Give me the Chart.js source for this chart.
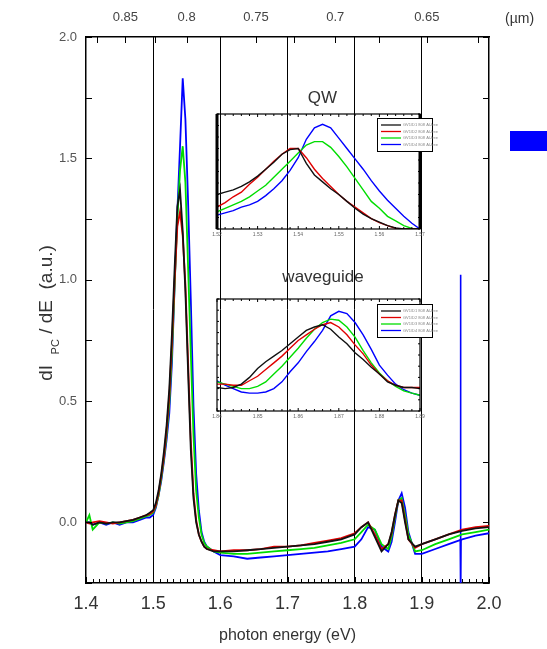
<!DOCTYPE html>
<html>
<head>
<meta charset="utf-8">
<script src="https://cdn.jsdelivr.net/npm/chart.js@4.4.1/dist/chart.umd.min.js"></script>
<style>
  body { margin: 0; background: #fff; }
  #wrap { position: relative; width: 547px; height: 649px; overflow: hidden; }
  canvas { position: absolute; }
  .lbl { position: absolute; font-family: 'Liberation Sans', Arial, sans-serif; color: #333; text-align: center; }
  #patch { position: absolute; left: 510px; top: 131px; width: 40px; height: 20px; background: #0000ff; }
</style>
</head>
<body>
<div id="wrap">
  <canvas id="main" width="547" height="649" style="left:0;top:0"></canvas>
  <canvas id="qw" width="240" height="132" style="left:205px;top:108px"></canvas>
  <canvas id="wg" width="240" height="130" style="left:205px;top:293px"></canvas>
  <div class="lbl" style="left:290px;top:88px;width:65px;font-size:17px;">QW</div>
  <div class="lbl" style="left:258px;top:267px;width:130px;font-size:17px;">waveguide</div>
  <div id="patch"></div>
</div>
<script>
// photon energy (eV) <-> wavelength (um)
const HC = 1.2398;

// ---- main spectra ----
const energy = [1.400, 1.405, 1.410, 1.420, 1.430, 1.440, 1.450, 1.460, 1.470, 1.480,
  1.490, 1.495, 1.500, 1.504, 1.508, 1.512, 1.516, 1.520, 1.524, 1.528,
  1.532, 1.536, 1.540, 1.544, 1.548, 1.552, 1.556, 1.560, 1.564, 1.568,
  1.572, 1.576, 1.580, 1.590, 1.600, 1.620, 1.640, 1.660, 1.680, 1.700,
  1.720, 1.740, 1.760, 1.780, 1.800, 1.810, 1.820, 1.830, 1.840, 1.850,
  1.855, 1.860, 1.865, 1.870, 1.875, 1.880, 1.890, 1.900, 1.920, 1.940,
  1.960, 1.980, 2.000];

const sampleD1 = [0.00, 0.00, -0.01, 0.00, -0.005, 0.00, 0.00, 0.005, 0.01, 0.02,
  0.03, 0.04, 0.05, 0.08, 0.13, 0.20, 0.29, 0.40, 0.55, 0.78,
  1.05, 1.30, 1.37, 1.20, 0.95, 0.62, 0.30, 0.10, 0.00, -0.05,
  -0.08, -0.10, -0.11, -0.12, -0.12, -0.12, -0.115, -0.11, -0.105, -0.10,
  -0.095, -0.09, -0.08, -0.07, -0.05, -0.02, 0.00, -0.06, -0.12, -0.09,
  -0.04, 0.03, 0.09, 0.08, 0.00, -0.07, -0.10, -0.09, -0.07, -0.05,
  -0.035, -0.025, -0.02];

const sampleD2 = [0.00, -0.005, 0.00, 0.005, 0.00, -0.005, 0.00, 0.005, 0.01, 0.02,
  0.03, 0.035, 0.045, 0.07, 0.12, 0.19, 0.27, 0.38, 0.52, 0.74,
  1.00, 1.22, 1.28, 1.18, 0.98, 0.66, 0.34, 0.12, 0.01, -0.05,
  -0.08, -0.10, -0.11, -0.115, -0.12, -0.115, -0.115, -0.11, -0.10, -0.10,
  -0.095, -0.085, -0.075, -0.065, -0.045, -0.02, 0.00, -0.05, -0.11, -0.09,
  -0.045, 0.03, 0.09, 0.09, 0.01, -0.07, -0.105, -0.09, -0.07, -0.05,
  -0.03, -0.02, -0.015];

const sampleD3 = [0.00, 0.03, -0.03, 0.00, -0.005, 0.00, -0.005, 0.00, 0.005, 0.015,
  0.025, 0.03, 0.04, 0.065, 0.11, 0.18, 0.26, 0.36, 0.49, 0.70,
  0.98, 1.25, 1.45, 1.55, 1.40, 1.05, 0.70, 0.36, 0.13, 0.02,
  -0.05, -0.085, -0.10, -0.12, -0.125, -0.13, -0.13, -0.125, -0.12, -0.115,
  -0.11, -0.105, -0.095, -0.085, -0.07, -0.04, -0.01, -0.03, -0.09, -0.11,
  -0.06, 0.02, 0.09, 0.10, 0.03, -0.05, -0.12, -0.115, -0.09, -0.07,
  -0.05, -0.04, -0.03];

const sampleD4 = [0.00, 0.00, -0.01, 0.00, -0.01, 0.00, -0.01, 0.00, 0.00, 0.01,
  0.02, 0.02, 0.03, 0.06, 0.11, 0.17, 0.25, 0.34, 0.45, 0.66,
  0.98, 1.28, 1.55, 1.83, 1.66, 1.32, 0.92, 0.48, 0.20, 0.05,
  -0.04, -0.08, -0.10, -0.12, -0.135, -0.14, -0.15, -0.145, -0.14, -0.135,
  -0.13, -0.125, -0.12, -0.11, -0.10, -0.07, -0.02, -0.03, -0.10, -0.12,
  -0.08, 0.00, 0.09, 0.12, 0.06, -0.04, -0.13, -0.13, -0.11, -0.09,
  -0.07, -0.055, -0.045];

// glitch in the D4 scan
const spikeE = [1.9572, 1.9576, 1.9580, 1.9584];
const spikeV = [-0.07, 1.02, -0.32, -0.07];

const yTickVals = [0.0, 0.5, 1.0, 1.5, 2.0];
const waveLabels = ['0.85', '0.8', '0.75', '0.7', '0.65'];
const waveMinor = [0.875, 0.85, 0.825, 0.8, 0.775, 0.75, 0.725, 0.7, 0.675, 0.65, 0.625];

// ---- QW inset ----
const qwE = [1.520, 1.522, 1.524, 1.526, 1.528, 1.530, 1.532, 1.534, 1.536, 1.538,
  1.540, 1.542, 1.544, 1.546, 1.548, 1.550, 1.552, 1.554, 1.556, 1.558,
  1.560, 1.562, 1.564, 1.566, 1.568, 1.570];
const qwD1 = [0.30, 0.32, 0.34, 0.37, 0.41, 0.46, 0.52, 0.58, 0.65, 0.69,
  0.70, 0.57, 0.47, 0.41, 0.35, 0.30, 0.24, 0.18, 0.13, 0.09,
  0.06, 0.03, 0.01, 0.00, 0.00, 0.00];
const qwD2 = [0.19, 0.23, 0.28, 0.32, 0.39, 0.45, 0.52, 0.59, 0.65, 0.70,
  0.70, 0.62, 0.52, 0.44, 0.37, 0.30, 0.24, 0.19, 0.14, 0.09,
  0.055, 0.03, 0.005, 0.00, 0.00, 0.00];
const qwD3 = [0.15, 0.18, 0.21, 0.24, 0.28, 0.33, 0.38, 0.45, 0.52, 0.59,
  0.66, 0.73, 0.76, 0.76, 0.71, 0.63, 0.54, 0.44, 0.34, 0.24,
  0.18, 0.11, 0.07, 0.03, 0.005, 0.00];
const qwD4 = [0.12, 0.14, 0.16, 0.19, 0.21, 0.24, 0.29, 0.35, 0.42, 0.51,
  0.62, 0.78, 0.88, 0.91, 0.88, 0.79, 0.70, 0.61, 0.52, 0.42,
  0.33, 0.25, 0.18, 0.11, 0.05, 0.00];
const qwTicks = [1.52, 1.53, 1.54, 1.55, 1.56, 1.57];

// ---- waveguide inset ----
const wgE = [1.840, 1.842, 1.844, 1.846, 1.848, 1.850, 1.852, 1.854, 1.856, 1.858,
  1.860, 1.862, 1.864, 1.866, 1.868, 1.870, 1.872, 1.874, 1.876, 1.878,
  1.880, 1.882, 1.884, 1.886, 1.888, 1.890];
const wgD1 = [0.21, 0.20, 0.21, 0.24, 0.30, 0.38, 0.44, 0.49, 0.54, 0.60,
  0.66, 0.72, 0.75, 0.77, 0.73, 0.66, 0.60, 0.52, 0.46, 0.39,
  0.33, 0.26, 0.23, 0.21, 0.21, 0.20];
const wgD2 = [0.24, 0.24, 0.23, 0.23, 0.27, 0.31, 0.37, 0.43, 0.49, 0.56,
  0.63, 0.68, 0.73, 0.77, 0.79, 0.75, 0.68, 0.59, 0.51, 0.41,
  0.33, 0.27, 0.23, 0.21, 0.21, 0.21];
const wgD3 = [0.26, 0.24, 0.22, 0.20, 0.20, 0.22, 0.26, 0.33, 0.40, 0.48,
  0.56, 0.65, 0.73, 0.79, 0.82, 0.81, 0.75, 0.66, 0.54, 0.43,
  0.34, 0.27, 0.22, 0.18, 0.16, 0.14];
const wgD4 = [0.27, 0.23, 0.20, 0.17, 0.16, 0.16, 0.17, 0.20, 0.26, 0.35,
  0.43, 0.53, 0.62, 0.72, 0.85, 0.89, 0.87, 0.79, 0.68, 0.55,
  0.41, 0.32, 0.24, 0.19, 0.16, 0.14];
const wgTicks = [1.84, 1.85, 1.86, 1.87, 1.88, 1.89];

const colors = ['#111111', '#e00000', '#00dd00', '#0000ff'];
const legendNames = ['GV1/D1 808 Al-free', 'GV1/D2 808 Al-free', 'GV1/D3 808 Al-free', 'GV1/D4 808 Al-free'];
const FONT = "'Liberation Sans', Arial, sans-serif";

const xy = (xs, ys) => xs.map((x, i) => ({ x: x, y: ys[i] }));

// inward ticks, axis titles and the wavelength unit
const mainDecor = {
  id: 'mainDecor',
  afterDraw(chart) {
    const { ctx, chartArea: a, scales } = chart;
    const x = scales.x, y = scales.y;
    ctx.save();
    ctx.strokeStyle = '#000';
    ctx.lineWidth = 1;
    ctx.beginPath();
    for (let i = 0; i <= 60; i++) {
      const px = Math.round(x.getPixelForValue(1.4 + i * 0.01)) + 0.5;
      ctx.moveTo(px, a.bottom);
      ctx.lineTo(px, a.bottom - (i % 10 === 0 ? 6 : 4));
    }
    waveMinor.forEach(l => {
      const px = Math.round(x.getPixelForValue(HC / l)) + 0.5;
      ctx.moveTo(px, a.top);
      ctx.lineTo(px, a.top + 6);
    });
    for (let v = -0.25; v <= 2.0; v += 0.25) {
      const py = Math.round(y.getPixelForValue(v)) + 0.5;
      ctx.moveTo(a.left, py); ctx.lineTo(a.left + 6, py);
      ctx.moveTo(a.right, py); ctx.lineTo(a.right - 6, py);
    }
    ctx.stroke();

    ctx.fillStyle = '#333';
    ctx.font = '16px ' + FONT;
    ctx.textAlign = 'center';
    ctx.textBaseline = 'middle';
    ctx.fillText('photon energy (eV)', (a.left + a.right) / 2, 636);

    ctx.font = '14px ' + FONT;
    ctx.textAlign = 'left';
    ctx.fillText('(\u00b5m)', 505, 19);

    // rotated y title with subscript
    ctx.translate(47, 313);
    ctx.rotate(-Math.PI / 2);
    const big = '19px ' + FONT, small = '11px ' + FONT;
    ctx.font = big; const w1 = ctx.measureText('dI  ').width;
    ctx.font = small; const w2 = ctx.measureText('PC').width;
    ctx.font = big; const w3 = ctx.measureText(' / dE  (a.u.)').width;
    let cx = -(w1 + w2 + w3) / 2;
    ctx.textAlign = 'left';
    ctx.font = big; ctx.fillText('dI  ', cx, 0); cx += w1;
    ctx.font = small; ctx.fillText('PC', cx, 9); cx += w2;
    ctx.font = big; ctx.fillText(' / dE  (a.u.)', cx, 0);
    ctx.restore();
  }
};

const lineSet = (data, color, width) => ({
  data: data, borderColor: color, borderWidth: width, pointRadius: 0, fill: false, tension: 0
});

new Chart(document.getElementById('main'), {
  type: 'line',
  data: {
    datasets: [
      lineSet(xy(energy, sampleD1), colors[0], 1.8),
      lineSet(xy(energy, sampleD2), colors[1], 1.8),
      lineSet(xy(energy, sampleD3), colors[2], 1.8),
      lineSet(xy(energy, sampleD4), colors[3], 1.8),
      lineSet(xy(spikeE, spikeV), colors[3], 1.6)
    ]
  },
  options: {
    responsive: false,
    animation: false,
    devicePixelRatio: 1,
    layout: { padding: 0 },
    plugins: { legend: { display: false }, tooltip: { enabled: false } },
    scales: {
      x: {
        type: 'linear', position: 'bottom', min: 1.4, max: 2.0,
        afterFit: s => { s.height = 66; },
        ticks: {
          stepSize: 0.1, padding: 10, maxRotation: 0, autoSkip: false,
          color: '#333', font: { size: 18, family: FONT },
          callback: v => v.toFixed(1)
        },
        grid: {
          drawTicks: false, lineWidth: 1,
          color: c => (c.tick && c.tick.value > 1.45 && c.tick.value < 1.95) ? '#000' : 'rgba(0,0,0,0)'
        },
        border: { display: true, color: '#000', width: 1.5 }
      },
      xTop: {
        type: 'linear', position: 'top', min: 1.4, max: 2.0,
        afterFit: s => { s.height = 37; },
        afterBuildTicks: s => { s.ticks = waveLabels.map(l => ({ value: HC / parseFloat(l) })); },
        ticks: {
          padding: 12, maxRotation: 0, autoSkip: false,
          color: '#444', font: { size: 13, family: FONT },
          callback: (v, i) => waveLabels[i]
        },
        grid: { display: false, drawTicks: false },
        border: { display: true, color: '#000', width: 1.5 }
      },
      y: {
        type: 'linear', position: 'left', min: -0.25, max: 2.0,
        afterFit: s => { s.width = 86; },
        afterBuildTicks: s => { s.ticks = yTickVals.map(v => ({ value: v })); },
        ticks: {
          padding: 9, color: '#555', font: { size: 13, family: FONT },
          callback: v => v.toFixed(1)
        },
        grid: { display: false, drawTicks: false },
        border: { display: true, color: '#000', width: 1.5 }
      },
      y2: {
        type: 'linear', position: 'right', min: -0.25, max: 2.0,
        afterFit: s => { s.width = 58; },
        ticks: { display: false },
        grid: { display: false, drawTicks: false },
        border: { display: true, color: '#000', width: 1.5 }
      }
    }
  },
  plugins: [mainDecor]
});

// frame, ticks, tiny labels and legend for the insets
const insetDecor = {
  id: 'insetDecor',
  afterDraw(chart, args, opts) {
    const { ctx, chartArea: a, scales: { x, y } } = chart;
    ctx.save();
    ctx.strokeStyle = '#000';
    ctx.lineWidth = 1.2;
    ctx.strokeRect(a.left, a.top, a.right - a.left, a.bottom - a.top);
    if (opts.heavySides) {
      ctx.lineWidth = 3;
      ctx.beginPath();
      ctx.moveTo(a.left, a.top); ctx.lineTo(a.left, a.bottom);
      ctx.moveTo(a.right, a.top); ctx.lineTo(a.right, a.bottom);
      ctx.stroke();
    }
    ctx.lineWidth = 1;
    ctx.beginPath();
    const t0 = opts.ticks[0], t1 = opts.ticks[opts.ticks.length - 1];
    for (let i = 0; i <= 25; i++) {
      const px = x.getPixelForValue(t0 + (t1 - t0) * i / 25);
      const len = i % 5 === 0 ? 3 : 2;
      ctx.moveTo(px, a.bottom); ctx.lineTo(px, a.bottom - len);
      ctx.moveTo(px, a.top); ctx.lineTo(px, a.top + len);
    }
    for (let i = 0; i <= 10; i++) {
      const py = y.getPixelForValue(i / 10);
      ctx.moveTo(a.left, py); ctx.lineTo(a.left + 2, py);
      ctx.moveTo(a.right, py); ctx.lineTo(a.right - 2, py);
    }
    ctx.stroke();

    ctx.fillStyle = '#666';
    ctx.font = '5px ' + FONT;
    ctx.textAlign = 'center';
    ctx.textBaseline = 'top';
    opts.ticks.forEach(v => ctx.fillText(v.toFixed(2), x.getPixelForValue(v), a.bottom + 3));

    // legend box
    const bx = a.right - 43, by = a.top + opts.legendTop, bw = 55, bh = 33;
    ctx.fillStyle = '#fff';
    ctx.fillRect(bx, by, bw, bh);
    ctx.strokeStyle = '#000';
    ctx.lineWidth = 1;
    ctx.strokeRect(bx + 0.5, by + 0.5, bw, bh);
    ctx.font = '4px ' + FONT;
    ctx.textAlign = 'left';
    ctx.textBaseline = 'middle';
    colors.forEach((c, i) => {
      const ry = by + 7 + i * 6.5;
      ctx.strokeStyle = c;
      ctx.lineWidth = 1.3;
      ctx.beginPath(); ctx.moveTo(bx + 4, ry); ctx.lineTo(bx + 24, ry); ctx.stroke();
      ctx.fillStyle = '#888';
      ctx.fillText(legendNames[i], bx + 26, ry);
    });
    ctx.restore();
  }
};

function makeInset(id, xs, series, ticks, pad, legendTop, heavySides) {
  new Chart(document.getElementById(id), {
    type: 'line',
    data: { datasets: series.map((s, i) => lineSet(xy(xs, s), colors[i], 1.4)) },
    options: {
      responsive: false,
      animation: false,
      devicePixelRatio: 1,
      layout: { padding: pad },
      plugins: {
        legend: { display: false }, tooltip: { enabled: false },
        insetDecor: { ticks: ticks, legendTop: legendTop, heavySides: heavySides }
      },
      scales: {
        x: { type: 'linear', display: false, min: ticks[0], max: ticks[ticks.length - 1] },
        y: { type: 'linear', display: false, min: 0, max: 1 }
      }
    },
    plugins: [insetDecor]
  });
}

makeInset('qw', qwE, [qwD1, qwD2, qwD3, qwD4], qwTicks,
  { left: 12, right: 25, top: 6, bottom: 11 }, 4, true);
makeInset('wg', wgE, [wgD1, wgD2, wgD3, wgD4], wgTicks,
  { left: 12, right: 25, top: 6, bottom: 12 }, 5, false);
</script>
</body>
</html>
